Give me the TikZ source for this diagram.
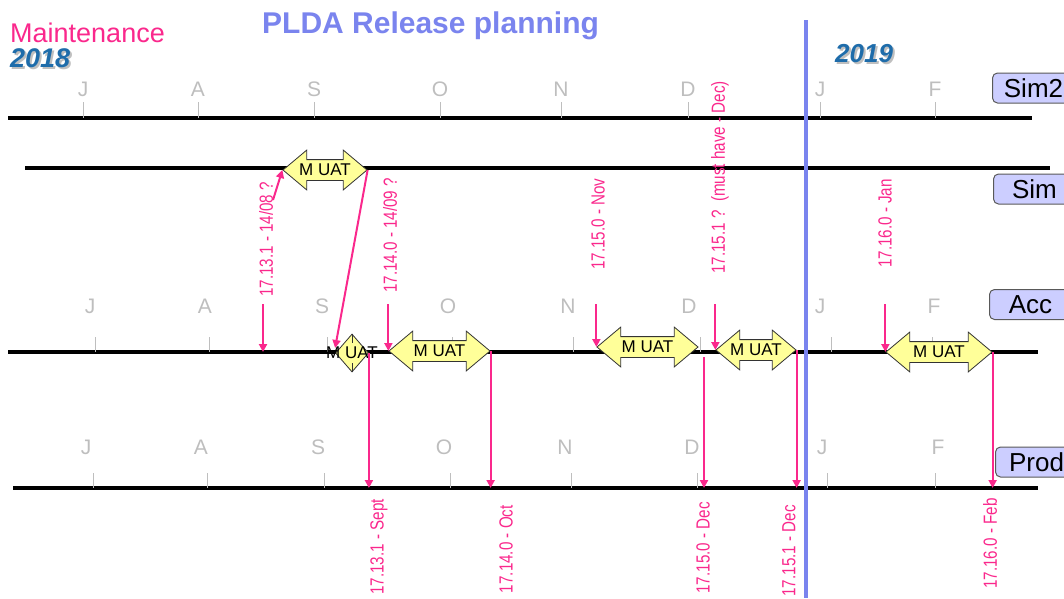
\documentclass[tikz,border=0pt]{standalone}
\usepackage{fontspec}
\setmainfont{Liberation Sans}
\newfontfamily\narrowfont[FakeStretch=0.8]{Liberation Sans}
\usetikzlibrary{shapes.arrows,shapes.geometric,arrows.meta}
\definecolor{relpink}{RGB}{250,40,140}
\definecolor{plblue}{RGB}{122,132,238}
\definecolor{yearblue}{RGB}{30,108,170}
\definecolor{monthgray}{RGB}{190,190,190}
\definecolor{uatyellow}{RGB}{255,255,153}
\definecolor{envfill}{RGB}{204,206,255}
\begin{document}
\begin{tikzpicture}[x=1pt,y=1pt]
	\tikzstyle{every node}+=[inner sep=0pt]
	\tikzstyle{tline}=[black,line width=3.5pt]
	\tikzstyle{tick}=[monthgray,line width=1pt]
	\tikzstyle{month}=[monthgray,anchor=base,font=\fontsize{21}{21}\selectfont]
	\tikzstyle{rel}=[relpink,line width=2pt,-{Triangle[width=8pt,length=8pt]}]
	\tikzstyle{rlabel}=[relpink,rotate=90,font=\narrowfont\fontsize{19}{19}\selectfont]
	\tikzstyle{uatbox}=[draw=black!80,fill=uatyellow,line width=0.8pt,label={[font=\fontsize{17}{17}\selectfont]center:M UAT}]
	\tikzstyle{uat}=[uatbox,double arrow,double arrow head extend=9.5pt,double arrow tip angle=80,inner xsep=0pt,inner ysep=10pt]
	\tikzstyle{uatdia}=[uatbox,diamond,minimum width=33pt,minimum height=38pt]
	\tikzstyle{env}=[draw=black!65,fill=envfill,rounded corners=5pt,line width=1pt,minimum width=82pt,minimum height=30pt,anchor=west,font=\fontsize{26}{26}\selectfont]
	\useasboundingbox (0,0) rectangle (1064,-598);
	\clip (0,0) rectangle (1064,-598);
	\node[anchor=base west,text=relpink,font=\fontsize{27}{27}\selectfont] (maint) at (10,-42) {Maintenance};
	\node[anchor=base west,text=black!25,font=\bfseries\itshape\fontsize{27}{27}\selectfont] (y18s) at (12,-69) {2018};
	\node[anchor=base west,text=yearblue,font=\bfseries\itshape\fontsize{27}{27}\selectfont] (y18) at (10,-67) {2018};
	\node[anchor=base west,text=plblue,font=\bfseries\fontsize{30}{30}\selectfont] (title) at (262,-33) {PLDA Release planning};
	\node[anchor=base west,text=black!25,font=\bfseries\itshape\fontsize{26}{26}\selectfont] (y19s) at (837,-64) {2019};
	\node[anchor=base west,text=yearblue,font=\bfseries\itshape\fontsize{26}{26}\selectfont] (y19) at (835,-62) {2019};
	\draw[tline] (8,-118) -- (1032,-118);
	\draw[tline] (25,-168) -- (1050,-168);
	\draw[tline] (8,-352) -- (1038,-352);
	\draw[tline] (13,-488) -- (1038,-488);
	\foreach \x/\m in {83/J,198/A,314/S,440/O,561/N,688/D,820/J,935/F}{
		\node[month] (ma\x) at (\x,-96) {\m};
		\draw[tick] (\x,-102) -- (\x,-118);
	}
	\foreach \x/\t/\m in {90/95/J,205/209/A,322/327/S,448/452/O,568/573/N,689/700/D,820/831/J,934/932/F}{
		\node[month] (mb\x) at (\x,-313) {\m};
		\draw[tick] (\t,-337) -- (\t,-352);
	}
	\foreach \x/\t/\m in {86/93/J,201/207/A,318/324/S,444/450/O,565/571/N,692/697/D,822/827/J,938/935/F}{
		\node[month] (mc\x) at (\x,-454) {\m};
		\draw[tick] (\t,-473) -- (\t,-488);
	}
	\node[uat,minimum height=84pt] (uat1) at (325,-170) {};
	\node[uatdia] (uat2) at (352,-353) {};
	\draw[black!80,line width=0.8pt] (uat2.north) -- ++(0,-9) (uat2.south) -- ++(0,9);
	\node[uat,minimum height=101pt] (uat3) at (439.5,-351) {};
	\node[uat,minimum height=101pt] (uat4) at (647.5,-347) {};
	\node[uat,minimum height=80pt] (uat5) at (756,-350) {};
	\node[uat,minimum height=106pt] (uat6) at (939,-352) {};
	\node[rlabel,anchor=west] (l1) at (266,-297) {17.13.1 - 14/08 ?};
	\node[rlabel,anchor=west] (l2) at (390,-293) {17.14.0 - 14/09 ?};
	\node[rlabel,anchor=west] (l3) at (598,-270) {17.15.0 - Nov};
	\node[rlabel,anchor=west] (l4) at (720,-274) {17.15.1 ?\ \ (must have - Dec)};
	\node[rlabel,anchor=west] (l5) at (885,-268) {17.16.0 - Jan};
	\node[rlabel,anchor=east] (p1) at (379,-499) {17.13.1 - Sept};
	\node[rlabel,anchor=east] (p2) at (506,-505) {17.14.0 - Oct};
	\node[rlabel,anchor=east] (p3) at (703,-502) {17.15.0 - Dec};
	\node[rlabel,anchor=east] (p4) at (789,-505) {17.15.1 - Dec};
	\node[rlabel,anchor=east] (p5) at (990,-498) {17.16.0 - Feb};
	\coordinate (relstart) at (0,-304);
	\coordinate (prodline) at (0,-488);
	\coordinate (s1) at (273,-200);
	\coordinate (a1) at (263,-352);
	\coordinate (d4) at (704,-357);
	\draw[rel] (s1) -- (uat1.west);
	\draw[rel] (uat1.east) -- ([yshift=5pt]uat2.west);
	\draw[rel] (a1 |- relstart) -- (a1);
	\foreach \u in {uat3,uat4,uat5,uat6}
		\draw[rel] (\u.west |- relstart) -- (\u.west);
	\foreach \u in {uat2,uat3,uat5,uat6}
		\draw[rel] (\u.east) -- (\u.east |- prodline);
	\draw[rel] (d4) -- (d4 |- prodline);
	\draw[plblue,line width=4.5pt] (806,-20) -- (806,-598);
	\node[env] (sim2) at (992,-88) {Sim2};
	\node[env] (sim) at (993,-189) {Sim};
	\node[env] (acc) at (989,-304.5) {Acc};
	\node[env] (prod) at (995,-462) {Prod};
\end{tikzpicture}
\end{document}
